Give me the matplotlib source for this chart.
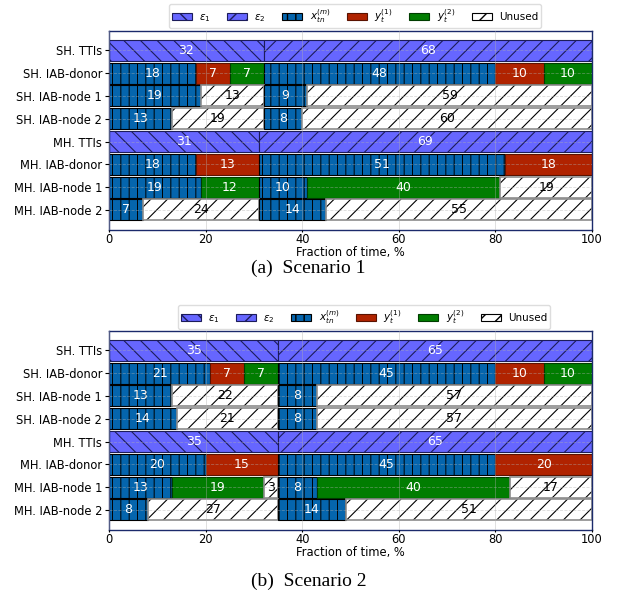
import matplotlib
matplotlib.use("Agg")
import matplotlib.pyplot as plt
from matplotlib.patches import Patch

plt.rcParams['font.family'] = 'DejaVu Sans'

ROWS = ['SH. TTIs', 'SH. IAB-donor', 'SH. IAB-node 1', 'SH. IAB-node 2',
        'MH. TTIs', 'MH. IAB-donor', 'MH. IAB-node 1', 'MH. IAB-node 2']

# segment kinds per row: e1/e2 = TTI periods, x = access, y1/y2 = backhaul, u = unused
S1_KINDS = [['e1', 'e2'],
            ['x', 'y1', 'y2', 'x', 'y1', 'y2'],
            ['x', 'u', 'x', 'u'],
            ['x', 'u', 'x', 'u'],
            ['e1', 'e2'],
            ['x', 'y1', 'x', 'y1'],
            ['x', 'y2', 'x', 'y2', 'u'],
            ['x', 'u', 'x', 'u']]
S1_VALUES = [[32, 68],
             [18, 7, 7, 48, 10, 10],
             [19, 13, 9, 59],
             [13, 19, 8, 60],
             [31, 69],
             [18, 13, 51, 18],
             [19, 12, 10, 40, 19],
             [7, 24, 14, 55]]

S2_KINDS = [['e1', 'e2'],
            ['x', 'y1', 'y2', 'x', 'y1', 'y2'],
            ['x', 'u', 'x', 'u'],
            ['x', 'u', 'x', 'u'],
            ['e1', 'e2'],
            ['x', 'y1', 'x', 'y1'],
            ['x', 'y2', 'u', 'x', 'y2', 'u'],
            ['x', 'u', 'x', 'u']]
S2_VALUES = [[35, 65],
             [21, 7, 7, 45, 10, 10],
             [13, 22, 8, 57],
             [14, 21, 8, 57],
             [35, 65],
             [20, 15, 45, 20],
             [13, 19, 3, 8, 40, 17],
             [8, 27, 14, 51]]

LEGEND_LABELS = [r'$\varepsilon_1$', r'$\varepsilon_2$', r'$x_{tn}^{(m)}$',
                 r'$y_t^{(1)}$', r'$y_t^{(2)}$', 'Unused']
CAPTIONS = ['(a)  Scenario 1', '(b)  Scenario 2']

STYLES = {
    'e1': dict(facecolor='#6666ff', edgecolor='#1c1c5a', hatch='\\\\', text='white', hlw=0.8),
    'e2': dict(facecolor='#6666ff', edgecolor='#1c1c5a', hatch='//', text='white', hlw=0.8),
    'x': dict(facecolor='#0565ad', edgecolor='black', hatch='||', text='white', hlw=0.7),
    'y1': dict(facecolor='#b02300', edgecolor='#5a1200', hatch=None, text='white', hlw=0.8),
    'y2': dict(facecolor='#017d01', edgecolor='#003d00', hatch=None, text='white', hlw=0.8),
    'u': dict(facecolor='white', edgecolor='black', hatch='//', text='black', hlw=0.8),
}
SPINE = '#1b2a6b'
BAR_H = 0.92


def draw_panel(ax, kinds, values):
    for i, (row_k, row_v) in enumerate(zip(kinds, values)):
        left = 0
        for k, v in zip(row_k, row_v):
            st = STYLES[k]
            with plt.rc_context({'hatch.linewidth': st['hlw']}):
                if k == 'u':
                    ax.barh(i, v, left=left, height=BAR_H, color='white',
                            edgecolor='black', hatch=st['hatch'], linewidth=0, zorder=2)
                    ax.barh(i, v, left=left, height=BAR_H, fill=False,
                            edgecolor='#8c8c8c', linewidth=1.2, zorder=2)
                else:
                    ax.barh(i, v, left=left, height=BAR_H, color=st['facecolor'],
                            edgecolor=st['edgecolor'], hatch=st['hatch'],
                            linewidth=0.8, zorder=2)
            ax.text(left + v / 2, i, str(v), ha='center', va='center',
                    color=st['text'], fontsize=9, zorder=4)
            left += v
    ax.set_xlim(0, 100)
    ax.set_ylim(7.88, -0.85)
    ax.set_yticks(range(len(ROWS)))
    ax.set_yticklabels(ROWS, fontsize=8.3)
    ax.set_xticks([0, 20, 40, 60, 80, 100])
    ax.tick_params(axis='x', labelsize=8.3, length=1.5, pad=0.5)
    ax.tick_params(axis='y', length=3, pad=2)
    ax.set_xlabel('Fraction of time, %', fontsize=8.3, labelpad=0.5)
    ax.set_axisbelow(False)
    ax.xaxis.grid(True, color='#b0b0b0', linestyle='-', linewidth=0.6, alpha=0.45, zorder=3)
    ax.yaxis.grid(True, color='#b0b0b0', linestyle='--', linewidth=0.6, alpha=0.45, zorder=3)
    for sp in ax.spines.values():
        sp.set_color(SPINE)
        sp.set_linewidth(1.0)


def legend_handles():
    handles = []
    for k in ['e1', 'e2', 'x', 'y1', 'y2', 'u']:
        st = STYLES[k]
        with plt.rc_context({'hatch.linewidth': st['hlw']}):
            handles.append(Patch(facecolor=st['facecolor'], edgecolor=st['edgecolor'],
                                 hatch=st['hatch'], linewidth=0.8))
    return handles


W, H = 617, 599
fig = plt.figure(figsize=(W / 100, H / 100), dpi=100)

panels = [
    (S1_KINDS, S1_VALUES, 31, 230, 355, 16, 268),
    (S2_KINDS, S2_VALUES, 331, 530, 364, 317, 581),
]
for idx, (kinds, values, top, bottom, leg_x, leg_y, cap_y) in enumerate(panels):
    ax = fig.add_axes([109 / W, 1 - bottom / H, 483 / W, (bottom - top) / H])
    draw_panel(ax, kinds, values)
    fig.legend(legend_handles(), LEGEND_LABELS, ncol=6, fontsize=7.5,
               loc='center', bbox_to_anchor=(leg_x / W, 1 - leg_y / H),
               handlelength=1.9, handleheight=0.6, handletextpad=0.7,
               columnspacing=1.6, borderpad=0.3, framealpha=1,
               edgecolor='#dddddd', fancybox=True)
    fig.text(0.5, 1 - cap_y / H, CAPTIONS[idx], ha='center', va='center',
             fontsize=14, family='Liberation Serif')

fig.savefig('out.png', dpi=100)
